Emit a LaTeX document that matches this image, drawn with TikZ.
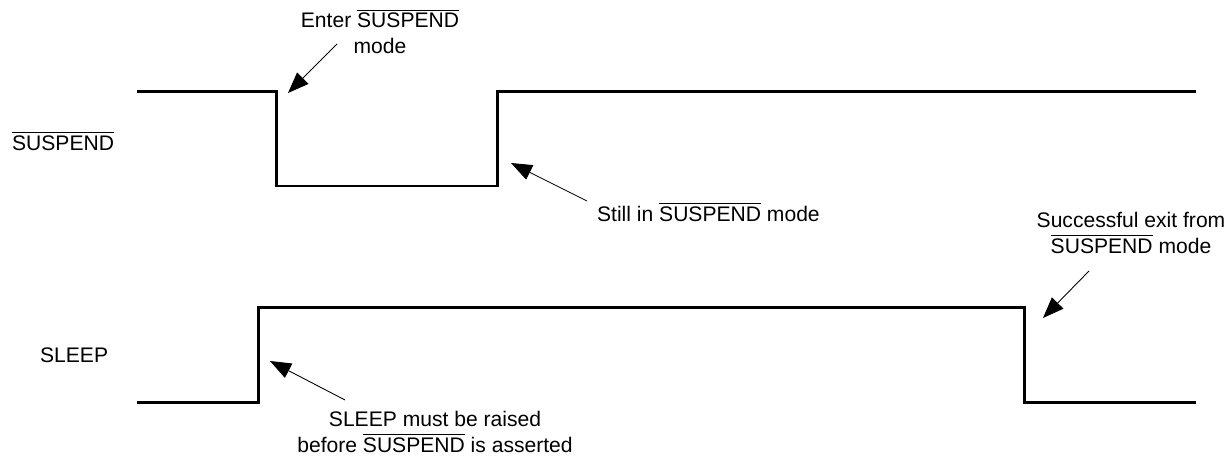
\documentclass[tikz,border=0pt]{standalone}
\usepackage{amsmath}
\usepackage{fontspec}
\setmainfont{Liberation Sans}
\usepackage{tikz}
\usetikzlibrary{arrows.meta}
\usetikzlibrary{positioning}

\newcommand{\suspbar}{$\overline{\text{SUSPEND}}$}

\tikzset{
  signal/.style={line width=0.06cm, line join=miter},
  callout/.style={-{Triangle[length=4.2mm,width=3.2mm]}, line width=0.5pt, shorten >=0pt},
  note/.style={align=center, font=\fontsize{12}{14.5}\selectfont, inner sep=1pt}
}

\begin{document}
\begin{tikzpicture}[x=0.02cm, y=-0.02cm]

\useasboundingbox (0,0) rectangle (1228,456);

% etichette dei segnali
\node[note, anchor=west] (lsusp) at (10,141) {\suspbar};
\node[note, anchor=west] (lsleep) at (38,355) {SLEEP};

% segnale SUSPEND
\draw[signal] (137,92) -- (276,92) -- (276,186) -- (497,186) -- (497,92) -- (1196,92);

% segnale SLEEP
\draw[signal] (137,402) -- (258,402) -- (258,307) -- (1024,307) -- (1024,402) -- (1196,402);

% ingresso in SUSPEND
\node[note] (enter) at (380,31) {Enter \suspbar\\mode};
\coordinate (enterfrom) at (337,44);
\coordinate (entertip) at (288,93);
\draw[callout] (enterfrom) -- (entertip);

% ancora in SUSPEND
\node[note, anchor=west] (still) at (595,212) {Still in \suspbar{} mode};
\coordinate (stillfrom) at (587,201);
\coordinate (stilltip) at (511,163);
\draw[callout] (stillfrom) -- (stilltip);

% uscita da SUSPEND
\node[note] (exit) at (1131,233) {Successful exit from\\\suspbar{} mode};
\coordinate (exitfrom) at (1089,271);
\coordinate (exittip) at (1043,318);
\draw[callout] (exitfrom) -- (exittip);

% SLEEP prima di SUSPEND
\node[note] (raise) at (435,432) {SLEEP must be raised\\before \suspbar{} is asserted};
\coordinate (raisefrom) at (345,400);
\coordinate (raisetip) at (270,361);
\draw[callout] (raisefrom) -- (raisetip);

\end{tikzpicture}
\end{document}
